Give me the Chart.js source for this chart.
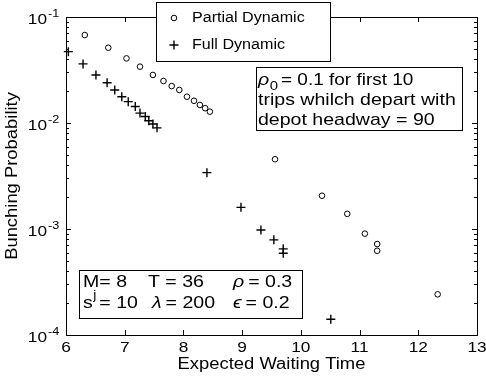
<!DOCTYPE html>
<html>
<head>
<meta charset="utf-8">
<script src="https://cdn.jsdelivr.net/npm/chart.js@4.4.1/dist/chart.umd.min.js"></script>
<style>
  html, body { margin: 0; padding: 0; background: #fff; }
</style>
</head>
<body>
<canvas id="chart" width="486" height="380"></canvas>
<script>
// values
const partialX = [6.32, 6.72, 7.03, 7.26, 7.48, 7.66, 7.80, 7.93, 8.06, 8.18, 8.28, 8.37, 8.45, 9.56, 10.36, 10.79, 11.09, 11.30, 11.30, 12.33];
const partialY = [0.0676, 0.0513, 0.0407, 0.0340, 0.0284, 0.0249, 0.0223, 0.0205, 0.0177, 0.0162, 0.0148, 0.0138, 0.0128, 0.00455, 0.00206, 0.00139, 0.000904, 0.000721, 0.000623, 0.000242];
const fullX = [6.04, 6.29, 6.51, 6.70, 6.83, 6.95, 7.06, 7.18, 7.26, 7.35, 7.41, 7.48, 7.55, 8.40, 8.98, 9.32, 9.54, 9.70, 9.70, 10.51];
const fullY = [0.0471, 0.0361, 0.0284, 0.0240, 0.0205, 0.0177, 0.0159, 0.0143, 0.0124, 0.0115, 0.0105, 0.0098, 0.0090, 0.0034, 0.0016, 0.00098, 0.00079, 0.00065, 0.00059, 0.000141];

const xTicks = [6, 7, 8, 9, 10, 11, 12, 13];
const yTickExps = [-1, -2, -3, -4];
const legendLabels = ["Partial Dynamic", "Full Dynamic"];
const xTitle = "Expected Waiting Time";
const yTitle = "Bunching Probability";

const FONT = "'Liberation Sans', Arial, Helvetica, sans-serif";
const SX = 1.15; // the reference text is a bit wide

// draws text stretched a little horizontally, returns right edge
function txt(ctx, s, x, y, size, align, italic) {
  ctx.save();
  ctx.font = (italic ? "italic " : "") + size + "px " + FONT;
  ctx.textBaseline = "middle";
  ctx.fillStyle = "#000";
  const w = ctx.measureText(s).width * SX;
  let x0 = x;
  if (align === "center") x0 = x - w / 2;
  else if (align === "right") x0 = x - w;
  ctx.translate(x0, y);
  ctx.scale(SX, 1);
  ctx.textAlign = "left";
  ctx.fillText(s, 0, 0);
  ctx.restore();
  return x0 + w;
}

function box(ctx, x, y, w, h) {
  ctx.save();
  ctx.fillStyle = "#fff";
  ctx.fillRect(x, y, w, h);
  ctx.strokeStyle = "#000";
  ctx.lineWidth = 1;
  ctx.strokeRect(x + 0.5, y + 0.5, w, h);
  ctx.restore();
}

const axesPlugin = {
  id: "axesPlugin",
  beforeDatasetsDraw(chart) {
    const ctx = chart.ctx;
    const a = chart.chartArea;
    const xs = chart.scales.x, ys = chart.scales.y;
    ctx.save();
    ctx.strokeStyle = "#000";
    ctx.lineWidth = 1;
    ctx.strokeRect(Math.round(a.left) + 0.5, Math.round(a.top) + 0.5,
      Math.round(a.right - a.left), Math.round(a.bottom - a.top));
    ctx.beginPath();
    xTicks.forEach(v => {
      const px = Math.round(xs.getPixelForValue(v)) + 0.5;
      ctx.moveTo(px, a.bottom); ctx.lineTo(px, a.bottom - 5);
      ctx.moveTo(px, a.top); ctx.lineTo(px, a.top + 5);
    });
    yTickExps.forEach(e => {
      for (let k = 1; k <= 9; k++) {
        const v = k * Math.pow(10, e - 1);
        if (v < 1e-4 * 0.999) continue;
        const py = Math.round(ys.getPixelForValue(v)) + 0.5;
        const len = k === 1 ? 5 : 3;
        ctx.moveTo(a.left, py); ctx.lineTo(a.left + len, py);
        ctx.moveTo(a.right, py); ctx.lineTo(a.right - len, py);
      }
      const py = Math.round(ys.getPixelForValue(Math.pow(10, e))) + 0.5;
      ctx.moveTo(a.left, py); ctx.lineTo(a.left + 5, py);
      ctx.moveTo(a.right, py); ctx.lineTo(a.right - 5, py);
    });
    ctx.stroke();
    ctx.restore();
  },
  afterDraw(chart) {
    const ctx = chart.ctx;
    const a = chart.chartArea;
    const xs = chart.scales.x, ys = chart.scales.y;

    // tick labels
    xTicks.forEach(v => txt(ctx, String(v), xs.getPixelForValue(v), a.bottom + 13, 15, "center"));
    yTickExps.forEach(e => {
      const py = ys.getPixelForValue(Math.pow(10, e));
      txt(ctx, "10", 47, py + 2.5, 15, "right");
      txt(ctx, String(e), 48, py - 3, 11, "left");
    });

    // axis titles
    txt(ctx, xTitle, (a.left + a.right) / 2, 365, 16, "center");
    ctx.save();
    ctx.translate(13, (a.top + a.bottom) / 2);
    ctx.rotate(-Math.PI / 2);
    txt(ctx, yTitle, 0, 0, 16, "center");
    ctx.restore();

    // legend
    box(ctx, 156, 2, 174, 59);
    ctx.save();
    ctx.strokeStyle = "#000";
    ctx.lineWidth = 1;
    ctx.beginPath();
    ctx.arc(174, 18, 2.8, 0, Math.PI * 2);
    ctx.stroke();
    ctx.lineWidth = 1.4;
    ctx.beginPath();
    ctx.moveTo(169.5, 45); ctx.lineTo(178.5, 45);
    ctx.moveTo(174, 40.5); ctx.lineTo(174, 49.5);
    ctx.stroke();
    ctx.restore();
    txt(ctx, legendLabels[0], 192, 18, 14, "left");
    txt(ctx, legendLabels[1], 192, 45, 14, "left");

    // note box
    box(ctx, 256, 67, 206, 63);
    let e = txt(ctx, "\u03c1", 258, 80, 17, "left", true);
    e = txt(ctx, "0", e + 0.5, 86, 13, "left");
    txt(ctx, "= 0.1 for first 10", e + 3, 80, 16.5, "left");
    txt(ctx, "trips whilch depart with", 258, 100, 17, "left");
    txt(ctx, "depot headway = 90", 258, 120, 17, "left");

    // parameter box
    box(ctx, 79, 270, 223, 48);
    txt(ctx, "M= 8", 83, 282, 17, "left");
    txt(ctx, "T = 36", 148, 282, 17, "left");
    e = txt(ctx, "\u03c1", 233, 282, 17, "left", true);
    txt(ctx, "= 0.3", e + 4, 282, 17, "left");
    e = txt(ctx, "s", 83, 303, 17, "left");
    e = txt(ctx, "j", e + 0.5, 296, 12, "left");
    txt(ctx, "= 10", e + 3, 303, 17, "left");
    e = txt(ctx, "\u03bb", 152, 303, 17, "left", true);
    txt(ctx, "= 200", e + 4, 303, 17, "left");
    e = txt(ctx, "\u03f5", 233, 303, 17, "left", true);
    txt(ctx, "= 0.2", e + 4, 303, 17, "left");
  }
};

const ctx = document.getElementById("chart").getContext("2d");
const chart = new Chart(ctx, {
  type: "scatter",
  data: {
    datasets: [
      {
        label: legendLabels[0],
        data: partialX.map((x, i) => ({ x: x, y: partialY[i] })),
        pointStyle: "circle",
        radius: 2.8,
        borderWidth: 1,
        borderColor: "#000",
        backgroundColor: "rgba(0,0,0,0)",
        clip: false,
      },
      {
        label: legendLabels[1],
        data: fullX.map((x, i) => ({ x: x, y: fullY[i] })),
        pointStyle: "cross",
        radius: 4.5,
        borderWidth: 1.4,
        borderColor: "#000",
        clip: false,
      },
    ],
  },
  options: {
    responsive: false,
    animation: false,
    events: [],
    layout: { padding: { top: 17, right: 9, left: 0, bottom: 0 } },
    plugins: { legend: { display: false }, tooltip: { enabled: false } },
    scales: {
      x: {
        type: "linear",
        min: 6,
        max: 13,
        grid: { display: false, drawTicks: false },
        border: { display: false },
        ticks: { display: false },
        afterFit: (s) => { s.height = 45; },
      },
      y: {
        type: "logarithmic",
        min: 1e-4,
        max: 1e-1,
        grid: { display: false, drawTicks: false },
        border: { display: false },
        ticks: { display: false },
        afterFit: (s) => { s.width = 66; },
      },
    },
  },
  plugins: [axesPlugin],
});
</script>
</body>
</html>
